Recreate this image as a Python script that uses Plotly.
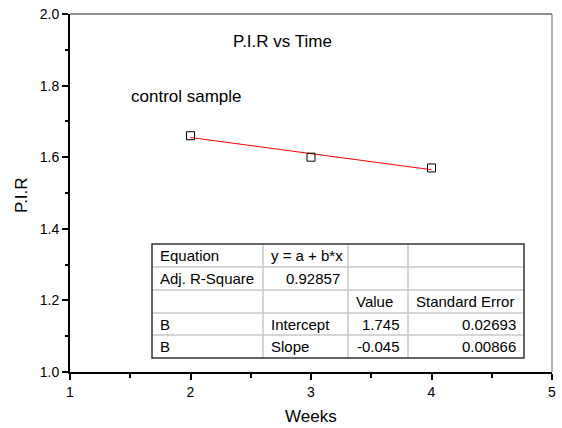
import plotly.graph_objects as go

# ---- data ----
weeks = [2, 3, 4]
pir = [1.66, 1.60, 1.57]
fit_intercept = 1.745
fit_slope = -0.045

x_ticks = [1, 2, 3, 4, 5]
y_ticks = [1.0, 1.2, 1.4, 1.6, 1.8, 2.0]

table_rows = [
    ["Equation", "y = a + b*x", "", ""],
    ["Adj. R-Square", "0.92857", "", ""],
    ["", "", "Value", "Standard Error"],
    ["B", "Intercept", "1.745", "0.02693"],
    ["B", "Slope", "-0.045", "0.00866"],
]
table_align = [
    ["left", "left", "left", "left"],
    ["left", "right", "left", "left"],
    ["left", "left", "left", "left"],
    ["left", "left", "right", "right"],
    ["left", "left", "right", "right"],
]

FONT = "Arial, 'Liberation Sans', sans-serif"
W, H = 562, 428
L, R, T, B = 70, 10, 14, 56
PW, PH = W - L - R, H - T - B


def px(X):
    return (X - L) / PW


def py(Y):
    return (H - B - Y) / PH


fig = go.Figure()

fit_x = [weeks[0], weeks[-1]]
fit_y = [fit_intercept + fit_slope * v for v in fit_x]
fig.add_trace(go.Scatter(x=fit_x, y=fit_y, mode="lines",
                         line=dict(color="#ff0000", width=1), showlegend=False,
                         hoverinfo="skip"))
fig.add_trace(go.Scatter(x=weeks, y=pir, mode="markers",
                         marker=dict(symbol="square-open", size=8,
                                     color="#000000", line=dict(width=1)),
                         showlegend=False))

shapes = []
annotations = []

# top and right frame lines
shapes.append(dict(type="line", xref="paper", yref="paper", x0=0, x1=1, y0=1, y1=1,
                   line=dict(color="#222222", width=1)))
shapes.append(dict(type="line", xref="paper", yref="paper", x0=1, x1=1, y0=0, y1=1,
                   line=dict(color="#666666", width=1)))

# table
col_edges = [152, 263, 348, 408, 524]
row_edges = [244, 267, 290, 313, 335, 358]
grid = "#c8c8c8"
for X in col_edges[1:-1]:
    shapes.append(dict(type="line", xref="paper", yref="paper",
                       x0=px(X), x1=px(X), y0=py(row_edges[0]), y1=py(row_edges[-1]),
                       line=dict(color=grid, width=1.5)))
for Y in row_edges[1:-1]:
    shapes.append(dict(type="line", xref="paper", yref="paper",
                       x0=px(col_edges[0]), x1=px(col_edges[-1]), y0=py(Y), y1=py(Y),
                       line=dict(color=grid, width=1.5)))
shapes.append(dict(type="rect", xref="paper", yref="paper",
                   x0=px(col_edges[0]), x1=px(col_edges[-1]),
                   y0=py(row_edges[-1]), y1=py(row_edges[0]),
                   line=dict(color="#333333", width=1.5)))

pad = 6
for r, row in enumerate(table_rows):
    yc = (row_edges[r] + row_edges[r + 1]) / 2
    for c, txt in enumerate(row):
        if not txt:
            continue
        al = table_align[r][c]
        if al == "left":
            X = col_edges[c] + pad
        else:
            X = col_edges[c + 1] - pad
        annotations.append(dict(xref="paper", yref="paper", x=px(X), y=py(yc),
                                text=txt, showarrow=False, xanchor=al, yanchor="middle",
                                font=dict(family=FONT, size=15, color="#000000")))

annotations.append(dict(xref="paper", yref="paper", x=px(282), y=py(41),
                        text="P.I.R vs Time", showarrow=False,
                        xanchor="center", yanchor="middle",
                        font=dict(family=FONT, size=17, color="#000000")))
annotations.append(dict(xref="paper", yref="paper", x=px(129), y=py(97),
                        text="control sample", showarrow=False,
                        xanchor="left", yanchor="middle",
                        font=dict(family=FONT, size=17, color="#000000")))
# axis titles
annotations.append(dict(xref="paper", yref="paper", x=px(311), y=py(416),
                        text="Weeks", showarrow=False,
                        xanchor="center", yanchor="middle",
                        font=dict(family=FONT, size=17, color="#000000")))
annotations.append(dict(xref="paper", yref="paper", x=px(21), y=py(195),
                        text="P.I.R", showarrow=False, textangle=-90,
                        xanchor="center", yanchor="middle",
                        font=dict(family=FONT, size=17, color="#000000")))

axis_common = dict(showline=True, linecolor="#000000", linewidth=2,
                   ticks="outside", ticklen=6, tickwidth=1.5, tickcolor="#000000",
                   showgrid=False, zeroline=False, mirror=False, automargin=False,
                   tickfont=dict(family=FONT, size=14, color="#000000"))

fig.update_layout(
    width=W, height=H,
    margin=dict(l=L, r=R, t=T, b=B, pad=0),
    paper_bgcolor="#ffffff", plot_bgcolor="#ffffff",
    showlegend=False,
    shapes=shapes,
    annotations=annotations,
    xaxis=dict(range=[1, 5], tickvals=x_ticks, ticktext=[str(v) for v in x_ticks],
               minor=dict(dtick=0.5, tick0=1, ticks="outside", ticklen=4, tickwidth=1.5,
                          tickcolor="#000000", showgrid=False),
               **axis_common),
    yaxis=dict(range=[1.0, 2.0], tickvals=y_ticks, ticktext=[f"{v:.1f}" for v in y_ticks],
               minor=dict(dtick=0.1, tick0=1.0, ticks="outside", ticklen=3, tickwidth=1.5,
                          tickcolor="#000000", showgrid=False),
               **axis_common),
)

fig.write_html("out.html")
